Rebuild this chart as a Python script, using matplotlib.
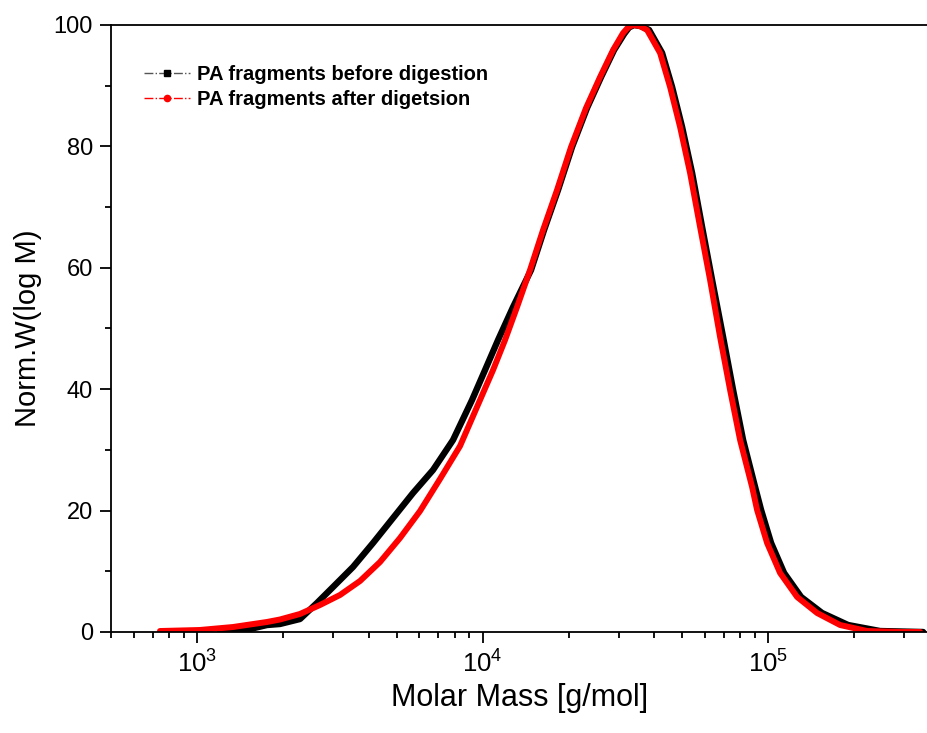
import numpy as np
import matplotlib
matplotlib.use("Agg")
import matplotlib.pyplot as plt
from matplotlib.lines import Line2D
from matplotlib.ticker import MultipleLocator, LogLocator

plt.rcParams['font.family'] = ['Liberation Sans', 'DejaVu Sans']
plt.rcParams['mathtext.fontset'] = 'custom'
plt.rcParams['mathtext.rm'] = 'Liberation Sans'

# molar mass [g/mol] and normalised W(log M)
mass_before = [1204, 1533, 1759, 1953, 2295, 2632, 2995, 3519, 4135, 4859,
               5709, 6708, 7883, 9188, 10205, 11333, 12790, 14788, 16423, 18383,
               20580, 23226, 26009, 28884, 31310, 32590, 33938, 35905, 38303, 42537,
               46110, 49982, 54179, 58730, 63662, 69566, 75410, 81743, 90050, 94510,
               102450, 113770, 130490, 154570, 190640, 246770, 349000]
norm_before = [0.0, 0.49, 1.15, 1.32, 2.14, 4.78, 7.41, 10.71, 14.66, 18.78,
               22.90, 26.69, 31.63, 38.22, 43.16, 48.11, 53.54, 59.64, 66.23, 72.82,
               79.90, 86.33, 91.43, 95.88, 98.52, 99.6, 100.0, 99.8, 99.18, 95.39,
               89.79, 83.20, 75.62, 66.72, 57.99, 48.60, 39.87, 31.63, 23.89, 20.10,
               14.66, 9.72, 5.77, 3.13, 1.15, 0.16, 0.0]

mass_after = [742, 1024, 1337, 1759, 1953, 2295, 2697, 3169, 3723, 4375,
              5141, 6041, 7098, 8341, 9800, 10885, 11991, 13209, 14669, 16291,
              18236, 20415, 23040, 25800, 28652, 31059, 32330, 33666, 35617, 37690,
              41856, 45372, 49182, 53312, 57790, 62643, 67904, 73607, 79789, 87898,
              91515, 99199, 110160, 126350, 148460, 178740, 222220, 290000, 340700]
norm_after = [0.16, 0.33, 0.82, 1.65, 2.06, 2.97, 4.45, 6.10, 8.40, 11.53,
              15.49, 19.93, 25.21, 30.64, 38.22, 43.16, 48.11, 53.54, 59.64, 66.23,
              72.82, 79.90, 86.33, 91.43, 95.88, 98.68, 99.6, 100.0, 99.8, 99.18,
              95.39, 89.79, 83.20, 75.62, 66.72, 57.99, 48.60, 39.87, 31.63, 23.89,
              20.10, 14.66, 9.72, 5.77, 3.13, 1.15, 0.16, 0.0, 0.0]

labels = ['PA fragments before digestion', 'PA fragments after digetsion']

fig = plt.figure(figsize=(9.28, 7.33), dpi=100, facecolor='w')
ax = fig.add_axes([111 / 928, 1 - 632 / 733, 1 - 111 / 928, (632 - 25) / 733])

ax.plot(mass_before, norm_before, color='black', lw=4.6, solid_joinstyle='round',
        solid_capstyle='round')
ax.plot(mass_after, norm_after, color='#ff0000', lw=4.3, solid_joinstyle='round',
        solid_capstyle='round')

ax.set_xscale('log')
ax.set_xlim(500, 3.63e5)
ax.set_ylim(0, 100)

ax.yaxis.set_major_locator(MultipleLocator(20))
ax.yaxis.set_minor_locator(MultipleLocator(10))
ax.xaxis.set_major_locator(LogLocator(base=10))
ax.xaxis.set_minor_locator(LogLocator(base=10, subs=np.arange(2, 10)))

for side in ['left', 'bottom', 'top']:
    ax.spines[side].set_linewidth(1.3)
ax.spines['right'].set_visible(False)

ax.tick_params(which='both', direction='out', top=False, right=False, width=1.3)
ax.tick_params(which='major', length=8, pad=5)
ax.tick_params(which='minor', length=4.5)
ax.tick_params(axis='y', labelsize=17)
ax.tick_params(axis='x', labelsize=18.5)

ax.set_xlabel('Molar Mass [g/mol]', fontsize=22, labelpad=4)
ax.set_ylabel('Norm.W(log M)', fontsize=21, labelpad=8)

handles = [
    Line2D([], [], color='#555555', lw=1.0, ls='-.', marker='s', ms=4,
           mfc='black', mec='black'),
    Line2D([], [], color='#ff0000', lw=1.0, ls='-.', marker='o', ms=4.5,
           mfc='#ff0000', mec='#ff0000'),
]
leg = ax.legend(handles, labels, loc='upper left', bbox_to_anchor=(0.03, 0.947),
                frameon=False, prop={'weight': 'bold', 'size': 14.5},
                handlelength=2.3, handletextpad=0.35, labelspacing=0.3,
                borderaxespad=0)

fig.savefig('out.png', dpi=100, facecolor='w')
